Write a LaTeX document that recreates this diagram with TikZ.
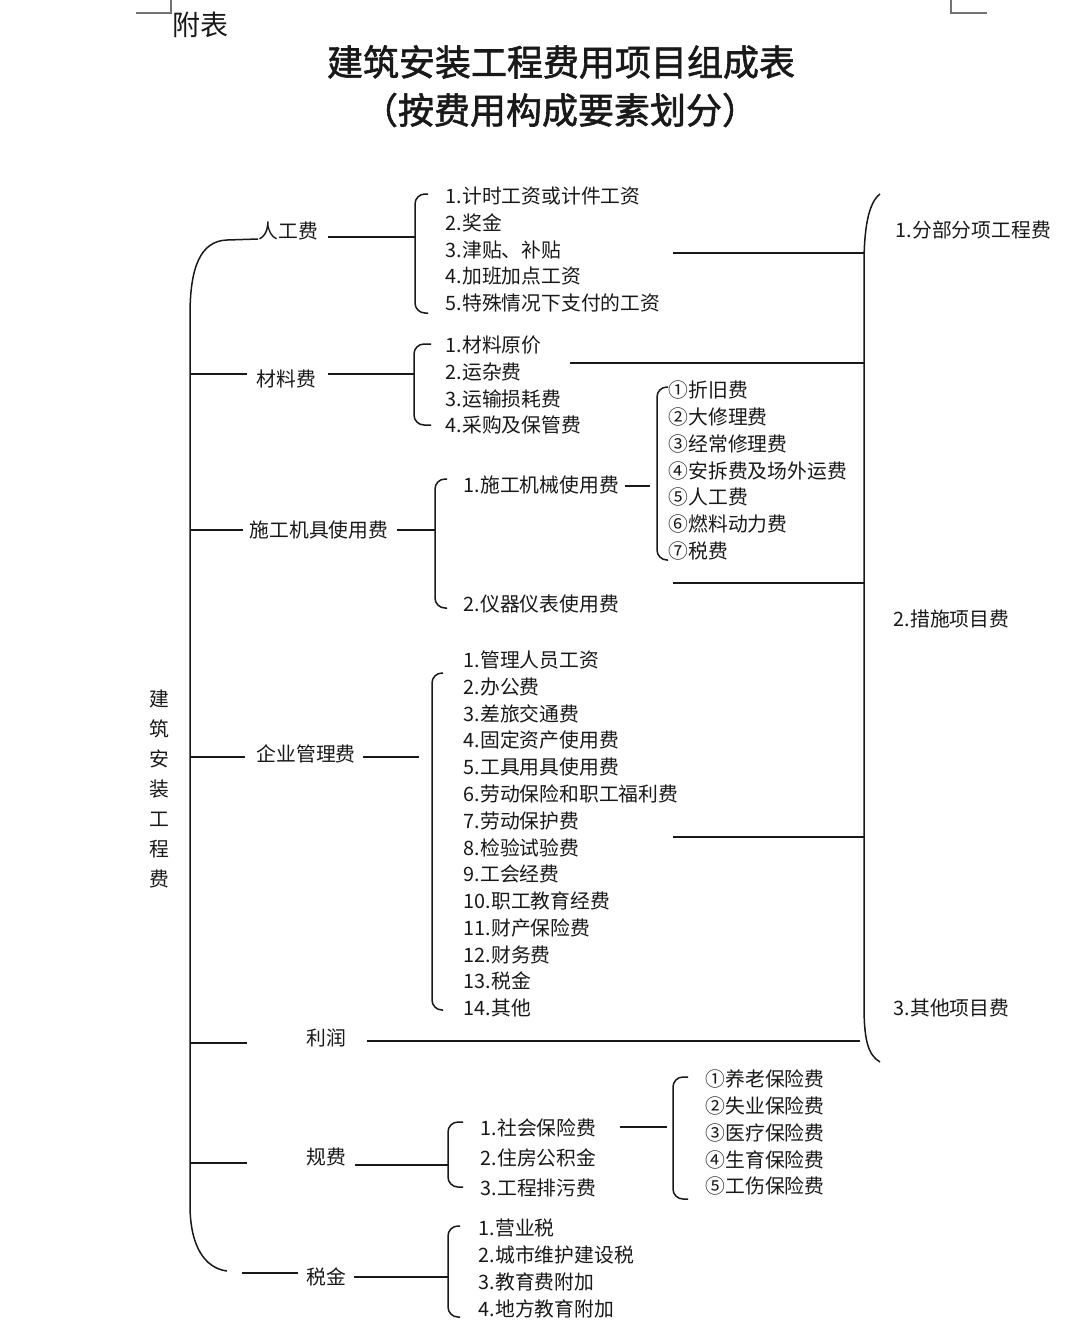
\documentclass[tikz,border=0pt]{standalone}
\usepackage{fontspec}
\setmainfont{Noto Sans CJK SC}
\newfontfamily\titlefont{Noto Sans CJK SC}[FakeBold=1.6]
\begin{document}
\begin{tikzpicture}[x=0.5pt,y=-0.5pt, line width=0.75pt,
  lbl/.style={anchor=west, inner sep=0pt, text=black!90, font=\fontsize{9.9pt}{12pt}\selectfont, text height=0.88em, text depth=0.12em},
  ttl/.style={inner sep=0pt, text=black!90, font=\titlefont\fontsize{18pt}{20pt}\selectfont},
  ln/.style={draw=black!90, line width=0.75pt},
  brk/.style={draw=black!90, line width=0.75pt, rounded corners=5pt},
  cornermark/.style={draw=black!55, line width=0.9pt}]
\useasboundingbox (0,0) rectangle (1080,1341);
\fill[white] (0,0) rectangle (1080,1341);

% corner marks
\coordinate (cl1) at (136,13); \coordinate (cl2) at (171,13); \coordinate (cl3) at (171,0);
\coordinate (cr1) at (951,0); \coordinate (cr2) at (951,13); \coordinate (cr3) at (987,13);
\draw[cornermark] (cl1) -- (cl2) -- (cl3);
\draw[cornermark] (cr1) -- (cr2) -- (cr3);

% titles
\node[anchor=west, inner sep=0pt, text=black!90, font=\fontsize{14pt}{16pt}\selectfont] (fb) at (172,25) {附表};
\node[ttl] (t1) at (561,62) {建筑安装工程费用项目组成表};
\node[ttl] (t2) at (560,110) {（按费用构成要素划分）};

% root
\node[inner sep=0pt, text=black!90, font=\fontsize{9.9pt}{15pt}\selectfont, align=center] (root) at (159,789) {建\\筑\\安\\装\\工\\程\\费};

% main left bracket
\coordinate (mTop) at (227,240);
\coordinate (mBot) at (227,1271);
\draw[ln] (mTop) .. controls (200,241) and (190,268) .. (190,315) -- (190,1205) .. controls (190,1245) and (204,1268) .. (mBot);

% right bracket
\coordinate (rTop) at (880,194);
\coordinate (rBot) at (880,1062);
\draw[ln] (rTop) .. controls (868,203) and (864,230) .. (864,265) -- (864,1005) .. controls (864,1040) and (868,1055) .. (rBot);
\node[lbl] (r1) at (895,230) {1.分部分项工程费};
\node[lbl] (r2) at (893,619) {2.措施项目费};
\node[lbl] (r3) at (893,1008) {3.其他项目费};

% ---------- 人工费
\node[lbl] (rg) at (258,231) {人工费};
\coordinate (rgL) at (258,239);
\draw[ln] (mTop) -- (rgL);
\coordinate (rgR1) at (328,237); \coordinate (rgR2) at (415,237);
\draw[ln] (rgR1) -- (rgR2);
\coordinate (b1t) at (428,194); \coordinate (b1b) at (428,313);
\draw[brk] (b1t) -- (415,194) -- (415,313) -- (b1b);
\foreach \t [count=\i] in {1.计时工资或计件工资,2.奖金,3.津贴、补贴,4.加班加点工资,5.特殊情况下支付的工资}
  \node[lbl] (a\i) at (445,{196+26.75*(\i-1)}) {\t};
\coordinate (h1a) at (673,253); \coordinate (h1b) at (864,253);
\draw[ln] (h1a) -- (h1b);

% ---------- 材料费
\coordinate (clL1) at (190,374); \coordinate (clL2) at (247,374);
\draw[ln] (clL1) -- (clL2);
\node[lbl] (cl) at (256,379) {材料费};
\coordinate (clR1) at (328,374); \coordinate (clR2) at (414,374);
\draw[ln] (clR1) -- (clR2);
\coordinate (b2t) at (431,344); \coordinate (b2b) at (431,425);
\draw[brk] (b2t) -- (414,344) -- (414,425) -- (b2b);
\foreach \t [count=\i] in {1.材料原价,2.运杂费,3.运输损耗费,4.采购及保管费}
  \node[lbl] (m\i) at (445,{345+26.75*(\i-1)}) {\t};
\coordinate (h2a) at (570,363); \coordinate (h2b) at (864,363);
\draw[ln] (h2a) -- (h2b);

% ---------- 施工机具使用费
\coordinate (sgL1) at (190,530); \coordinate (sgL2) at (243,530);
\draw[ln] (sgL1) -- (sgL2);
\node[lbl] (sg) at (249,530) {施工机具使用费};
\coordinate (sgR1) at (397,530); \coordinate (sgR2) at (435,530);
\draw[ln] (sgR1) -- (sgR2);
\coordinate (b3t) at (447,479); \coordinate (b3b) at (447,608);
\draw[brk] (b3t) -- (435,479) -- (435,608) -- (b3b);
\node[lbl] (s1) at (463,485) {1.施工机械使用费};
\node[lbl] (s2) at (463,604) {2.仪器仪表使用费};
\coordinate (s1R1) at (625,486); \coordinate (s1R2) at (650,486);
\draw[ln] (s1R1) -- (s1R2);
\coordinate (b4t) at (668,387); \coordinate (b4b) at (668,560);
\draw[brk] (b4t) -- (657,387) -- (657,560) -- (b4b);
\foreach \t [count=\i] in {①折旧费,②大修理费,③经常修理费,④安拆费及场外运费,⑤人工费,⑥燃料动力费,⑦税费}
  \node[lbl] (j\i) at (668,{390+26.8*(\i-1)}) {\t};
\coordinate (h3a) at (673,583); \coordinate (h3b) at (864,583);
\draw[ln] (h3a) -- (h3b);

% ---------- 企业管理费
\coordinate (qyL1) at (190,757); \coordinate (qyL2) at (245,757);
\draw[ln] (qyL1) -- (qyL2);
\node[lbl] (qy) at (256,754) {企业管理费};
\coordinate (qyR1) at (363,757); \coordinate (qyR2) at (419,757);
\draw[ln] (qyR1) -- (qyR2);
\coordinate (b5t) at (443,673); \coordinate (b5b) at (443,1010);
\draw[brk] (b5t) -- (432,673) -- (432,1010) -- (b5b);
\foreach \t [count=\i] in {1.管理人员工资,2.办公费,3.差旅交通费,4.固定资产使用费,5.工具用具使用费,6.劳动保险和职工福利费,7.劳动保护费,8.检验试验费,9.工会经费,10.职工教育经费,11.财产保险费,12.财务费,13.税金,14.其他}
  \node[lbl] (q\i) at (463,{660+26.77*(\i-1)}) {\t};
\coordinate (h4a) at (673,837); \coordinate (h4b) at (864,837);
\draw[ln] (h4a) -- (h4b);

% ---------- 利润
\coordinate (lrL1) at (190,1043); \coordinate (lrL2) at (247,1043);
\draw[ln] (lrL1) -- (lrL2);
\node[lbl] (lr) at (306,1038) {利润};
\coordinate (lrR1) at (367,1041); \coordinate (lrR2) at (860,1041);
\draw[ln] (lrR1) -- (lrR2);

% ---------- 规费
\coordinate (gfL1) at (190,1163); \coordinate (gfL2) at (247,1163);
\draw[ln] (gfL1) -- (gfL2);
\node[lbl] (gf) at (306,1157) {规费};
\coordinate (gfR1) at (355,1165); \coordinate (gfR2) at (448,1165);
\draw[ln] (gfR1) -- (gfR2);
\coordinate (b6t) at (463,1122); \coordinate (b6b) at (463,1187);
\draw[brk] (b6t) -- (448,1122) -- (448,1187) -- (b6b);
\foreach \t [count=\i] in {1.社会保险费,2.住房公积金,3.工程排污费}
  \node[lbl] (g\i) at (480,{1128+30*(\i-1)}) {\t};
\coordinate (g1R1) at (620,1127); \coordinate (g1R2) at (667,1127);
\draw[ln] (g1R1) -- (g1R2);
\coordinate (b7t) at (688,1077); \coordinate (b7b) at (688,1199);
\draw[brk] (b7t) -- (673,1077) -- (673,1199) -- (b7b);
\foreach \t [count=\i] in {①养老保险费,②失业保险费,③医疗保险费,④生育保险费,⑤工伤保险费}
  \node[lbl] (k\i) at (705,{1079+26.8*(\i-1)}) {\t};

% ---------- 税金
\coordinate (sjL1) at (242,1273); \coordinate (sjL2) at (298,1273);
\draw[ln] (sjL1) -- (sjL2);
\node[lbl] (sj) at (306,1277) {税金};
\coordinate (sjR1) at (354,1277); \coordinate (sjR2) at (448,1277);
\draw[ln] (sjR1) -- (sjR2);
\coordinate (b8t) at (460,1226); \coordinate (b8b) at (460,1317);
\draw[brk] (b8t) -- (448,1226) -- (448,1317) -- (b8b);
\foreach \t [count=\i] in {1.营业税,2.城市维护建设税,3.教育费附加,4.地方教育附加}
  \node[lbl] (x\i) at (478,{1228+27*(\i-1)}) {\t};
\end{tikzpicture}
\end{document}
